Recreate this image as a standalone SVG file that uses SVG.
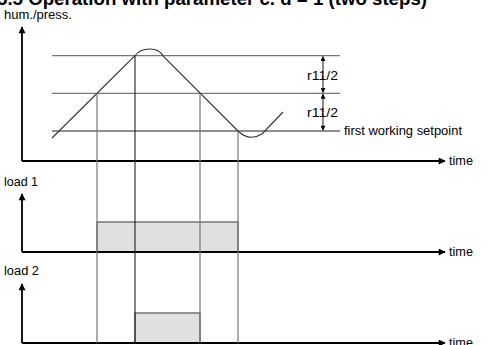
<svg xmlns="http://www.w3.org/2000/svg" width="494" height="345" viewBox="0 0 494 345">
<defs>
<marker id="ah" viewBox="0 0 10 10" refX="9" refY="5" markerWidth="9" markerHeight="7" markerUnits="userSpaceOnUse" orient="auto">
<path d="M0,0 L10,5 L0,10 z" fill="#000"/>
</marker>
<marker id="sa" viewBox="0 0 10 10" refX="9" refY="5" markerWidth="7" markerHeight="5" markerUnits="userSpaceOnUse" orient="auto">
<path d="M0,0 L10,5 L0,10 z" fill="#000"/>
</marker>
</defs>
<style>
text{font-family:"Liberation Sans",Arial,sans-serif;fill:#000}
.lbl{font-size:12px}
.title{font-size:18px;font-weight:bold}
.axis{stroke:#000;stroke-width:1.8;fill:none}
.grid{stroke:#777;stroke-width:1.2;fill:none}
.gridk{stroke:#222;stroke-width:1.1;fill:none}
.box{fill:#e0e0e0;stroke:#555;stroke-width:1.2}
.dim{stroke:#000;stroke-width:0.9;fill:none}
</style>
<text class="title" x="-3" y="5" textLength="430" lengthAdjust="spacingAndGlyphs">5.5 Operation with parameter c. d = 1 (two steps)</text>

<g id="chart-hum">
<text class="lbl" x="4" y="19" textLength="68" lengthAdjust="spacingAndGlyphs">hum./press.</text>
<line class="grid" x1="52" y1="55.7" x2="340" y2="55.7"/>
<line class="grid" x1="52" y1="93.3" x2="340" y2="93.3"/>
<line class="gridk" x1="52" y1="131" x2="340" y2="131"/>
<path d="M52,138 L135,55.7 C141,47.5 158,46 163,56 L238,131 C244,137 252,140 262,134 L283,112" fill="none" stroke="#333" stroke-width="1.1"/>
<path class="axis" d="M22,161 L22,27" marker-end="url(#ah)"/>
<path class="axis" d="M22,161 L445,161" marker-end="url(#ah)"/>
<text class="lbl" x="449" y="165" textLength="24" lengthAdjust="spacingAndGlyphs">time</text>
<text class="lbl" x="344" y="135" textLength="118" lengthAdjust="spacingAndGlyphs">first working setpoint</text>
</g>

<g id="dimensions">
<path class="dim" d="M323,74 L323,56.5" marker-end="url(#sa)"/>
<path class="dim" d="M323,75 L323,92.5" marker-end="url(#sa)"/>
<path class="dim" d="M323,112 L323,94.2" marker-end="url(#sa)"/>
<path class="dim" d="M323,113 L323,130.2" marker-end="url(#sa)"/>
<text class="lbl" x="307" y="80" textLength="31" lengthAdjust="spacingAndGlyphs">r11/2</text>
<text class="lbl" x="307" y="117" textLength="31" lengthAdjust="spacingAndGlyphs">r11/2</text>
</g>

<g id="chart-load1">
<text class="lbl" x="4" y="186" textLength="34" lengthAdjust="spacingAndGlyphs">load 1</text>
<rect class="box" x="97" y="222" width="141" height="30"/>
<path class="axis" d="M22,252 L22,194" marker-end="url(#ah)"/>
<path class="axis" d="M22,252 L445,252" marker-end="url(#ah)"/>
<text class="lbl" x="449" y="256" textLength="24" lengthAdjust="spacingAndGlyphs">time</text>
</g>

<g id="chart-load2">
<text class="lbl" x="4" y="275" textLength="35" lengthAdjust="spacingAndGlyphs">load 2</text>
<rect class="box" x="135" y="313" width="65" height="30" stroke="#333"/>
<path class="axis" d="M22,343 L22,284" marker-end="url(#ah)"/>
<path class="axis" d="M22,343 L445,343" marker-end="url(#ah)"/>
<text class="lbl" x="449" y="347" textLength="24" lengthAdjust="spacingAndGlyphs">time</text>
</g>

<g id="connectors">
<line class="grid" x1="97" y1="93.3" x2="97" y2="343"/>
<line class="gridk" x1="135" y1="55.7" x2="135" y2="343"/>
<line class="grid" x1="200" y1="93.3" x2="200" y2="343"/>
<line class="grid" x1="238" y1="131" x2="238" y2="343"/>
</g>
</svg>
